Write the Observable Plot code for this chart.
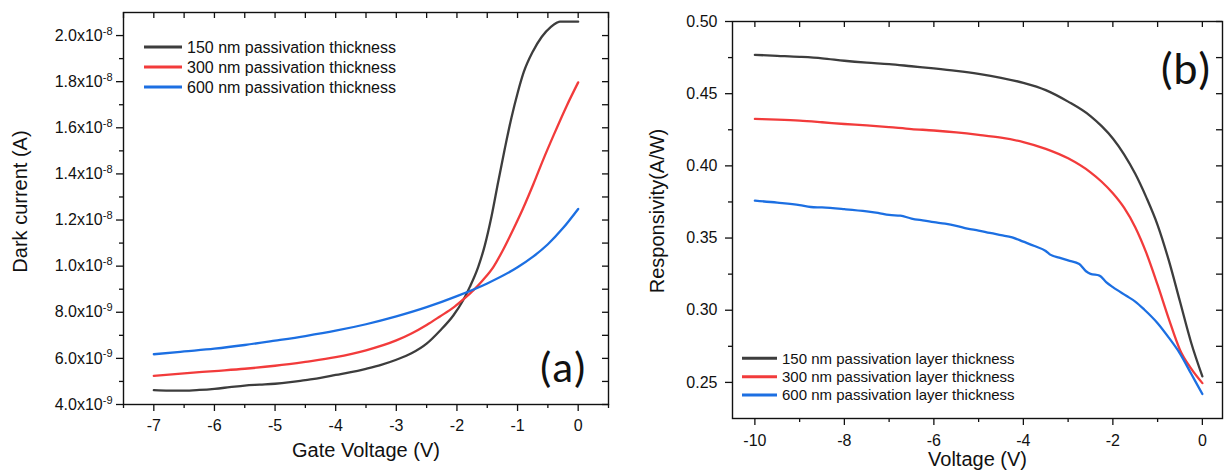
<!DOCTYPE html>
<html><head><meta charset="utf-8">
<script src="https://cdn.jsdelivr.net/npm/d3@7"></script>
<script src="https://cdn.jsdelivr.net/npm/@observablehq/plot@0.6"></script>
<style>
html,body{margin:0;padding:0;background:#fff;}
#wrap{position:relative;width:1225px;height:470px;overflow:hidden;background:#fff;}
#a{position:absolute;left:0;top:0;}
#b{position:absolute;left:620px;top:0;}
</style></head><body><div id="wrap"><div id="a"></div><div id="b"></div></div>
<script>
// ---------- Panel (a): dark current vs gate voltage (values in units of 1e-9 A) ----------
const seriesA = ["150 nm passivation thickness", "300 nm passivation thickness", "600 nm passivation thickness"];
const gateV150 = [-7, -6.75, -6.5, -6.25, -6, -5.75, -5.5, -5.25, -5, -4.75, -4.5, -4.25, -4, -3.75, -3.5, -3.25, -3, -2.75, -2.5, -2.28, -2.06, -1.9, -1.79, -1.65, -1.54, -1.43, -1.32, -1.21, -1.1, -1.0, -0.9, -0.75, -0.6, -0.45, -0.35, -0.3, 0];
const dark150  = [4.62, 4.6, 4.6, 4.63, 4.68, 4.75, 4.82, 4.86, 4.9, 4.97, 5.06, 5.15, 5.28, 5.4, 5.55, 5.72, 5.94, 6.22, 6.64, 7.2, 7.86, 8.51, 9.09, 9.96, 10.9, 12.15, 13.65, 15.1, 16.45, 17.5, 18.4, 19.3, 19.95, 20.38, 20.56, 20.6, 20.6];
const gateV300 = [-7, -6.5, -6, -5.5, -5, -4.5, -4, -3.5, -3, -2.75, -2.5, -2.28, -2.06, -1.9, -1.73, -1.57, -1.4, -1.24, -1.07, -0.91, -0.74, -0.58, -0.41, -0.19, 0];
const dark300  = [5.24, 5.35, 5.45, 5.55, 5.68, 5.85, 6.05, 6.35, 6.78, 7.08, 7.45, 7.82, 8.2, 8.55, 8.95, 9.4, 9.96, 10.7, 11.6, 12.5, 13.55, 14.6, 15.65, 16.95, 17.97];
const gateV600 = [-7, -6.5, -6, -5.5, -5, -4.5, -4, -3.5, -3, -2.5, -2, -1.5, -1, -0.75, -0.5, -0.25, 0];
const dark600  = [6.18, 6.3, 6.42, 6.58, 6.77, 6.97, 7.2, 7.48, 7.82, 8.22, 8.7, 9.25, 9.95, 10.4, 10.95, 11.65, 12.48];
const xTicksA = [-7, -6, -5, -4, -3, -2, -1, 0];
const xMinorA = [-7.5, -6.5, -5.5, -4.5, -3.5, -2.5, -1.5, -0.5, 0.5];
const yTicksA = [4, 6, 8, 10, 12, 14, 16, 18, 20];   // x1e-9 A
const yMinorA = [5, 7, 9, 11, 13, 15, 17, 19];

// ---------- Panel (b): responsivity vs voltage ----------
const seriesB = ["150 nm passivation layer thickness", "300 nm passivation layer thickness", "600 nm passivation layer thickness"];
const volt150 = [-10, -9.5, -9, -8.5, -8, -7.5, -7, -6.5, -6, -5.5, -5, -4.5, -4, -3.5, -3, -2.5, -2.25, -2, -1.75, -1.5, -1.25, -1, -0.75, -0.5, -0.25, 0];
const resp150 = [0.4769, 0.4762, 0.4755, 0.4745, 0.4728, 0.4715, 0.4705, 0.469, 0.4675, 0.4658, 0.4637, 0.461, 0.4575, 0.4525, 0.4445, 0.4345, 0.4275, 0.419, 0.408, 0.3945, 0.378, 0.359, 0.3345, 0.306, 0.2775, 0.2542];
const volt300 = [-10, -9.5, -9, -8.5, -8, -7.5, -7, -6.5, -6, -5.5, -5, -4.5, -4, -3.5, -3, -2.5, -2.25, -2, -1.75, -1.5, -1.25, -1, -0.75, -0.5, -0.25, 0];
const resp300 = [0.4325, 0.432, 0.4313, 0.4302, 0.429, 0.428, 0.4268, 0.4255, 0.4245, 0.4232, 0.4215, 0.4195, 0.4165, 0.4118, 0.4052, 0.3955, 0.389, 0.381, 0.371, 0.3575, 0.3395, 0.3175, 0.294, 0.2725, 0.2595, 0.2495];
const volt600 = [-10, -9.5, -9, -8.75, -8.5, -8, -7.5, -7.25, -7, -6.75, -6.5, -6.25, -6, -5.75, -5.5, -5.25, -5, -4.75, -4.5, -4.25, -4, -3.75, -3.5, -3.4, -3.2, -3, -2.75, -2.6, -2.5, -2.3, -2.15, -2, -1.7, -1.5, -1.3, -1, -0.75, -0.5, -0.25, 0];
const resp600 = [0.3759, 0.3745, 0.3728, 0.3715, 0.3712, 0.37, 0.3685, 0.3675, 0.366, 0.3655, 0.3635, 0.3622, 0.361, 0.36, 0.3585, 0.3565, 0.3552, 0.3535, 0.352, 0.3505, 0.3475, 0.3445, 0.341, 0.3385, 0.3365, 0.3345, 0.332, 0.327, 0.3252, 0.324, 0.3195, 0.316, 0.31, 0.306, 0.3005, 0.291, 0.281, 0.27, 0.256, 0.242];
const xTicksB = [-10, -8, -6, -4, -2, 0];
const xMinorB = [-9, -7, -5, -3, -1];
const yTicksB = [0.25, 0.30, 0.35, 0.40, 0.45, 0.50];
const yMinorB = [0.275, 0.325, 0.375, 0.425, 0.475];

const colors = ["#3d3d3d", "#f23b3b", "#1c6fe2"];
const FONT = "'Liberation Sans', Arimo, Arial, Helvetica, sans-serif";
const PANEL_FONT = "Carlito, Lato, 'Open Sans', sans-serif";

function sci(v) {
  const e = Math.floor(Math.log10(v) + 1e-9);
  const m = v / Math.pow(10, e);
  return m.toFixed(1) + "x10^" + e;
}

// ---------- build panel (a) ----------
const rowsA = [];
[[gateV150, dark150], [gateV300, dark300], [gateV600, dark600]].forEach(([xs, ys], k) =>
  xs.forEach((x, i) => rowsA.push({x, y: ys[i] * 1e-9, s: seriesA[k]})));

const WA = 620, HA = 470, mLA = 123, mRA = 12, mTA = 12, mBA = 66;
const fwA = WA - mLA - mRA, fhA = HA - mTA - mBA;

const plotA = Plot.plot({
  width: WA, height: HA,
  marginLeft: mLA, marginRight: mRA, marginTop: mTA, marginBottom: mBA,
  style: {fontFamily: FONT, color: "#111", background: "transparent", overflow: "visible"},
  x: {domain: [-7.5, 0.5], axis: null},
  y: {domain: [4e-9, 2.1e-8], axis: null},
  color: {domain: seriesA, range: colors},
  marks: [
    Plot.line(rowsA, {x: "x", y: "y", z: "s", stroke: "s", strokeWidth: 2.3, curve: "monotone-x"}),
    Plot.frame({stroke: "#111", strokeWidth: 1.4}),
    Plot.axisX(xTicksA, {anchor: "bottom", tickSize: 7, tickPadding: 8, fontSize: 16, tickFormat: d => String(d), label: null, strokeWidth: 1.3}),
    Plot.axisX(xMinorA, {anchor: "bottom", tickSize: 4, text: null, tickFormat: () => "", label: null, strokeWidth: 1.3}),
    Plot.tickX([...xTicksA, ...xMinorA], {x: d => d, insetBottom: fhA - 6, stroke: "#111", strokeWidth: 1.3}),
    Plot.axisY(yTicksA.map(v => v * 1e-9), {anchor: "left", tickSize: 7, tickPadding: 4, fontSize: 16, tickFormat: sci, label: null, strokeWidth: 1.3}),
    Plot.axisY(yMinorA.map(v => v * 1e-9), {anchor: "left", tickSize: 4, text: null, tickFormat: () => "", label: null, strokeWidth: 1.3}),
    Plot.tickY([...yTicksA, ...yMinorA].map(v => v * 1e-9), {y: d => d, insetLeft: fwA - 6, stroke: "#111", strokeWidth: 1.3}),
    Plot.text(["Gate Voltage (V)"], {text: d => d, frameAnchor: "bottom", dy: 46, lineAnchor: "middle", textAnchor: "middle", fontSize: 20, fill: "#111"}),
    Plot.text(["Dark current (A)"], {text: d => d, frameAnchor: "left", dx: -103, dy: -7, rotate: -90, lineAnchor: "middle", textAnchor: "middle", fontSize: 20, fill: "#111"}),
    Plot.text(["(a)"], {text: d => d, frameAnchor: "bottom-right", dx: -22, dy: -37, lineAnchor: "middle", textAnchor: "end", fontSize: 44, fontFamily: PANEL_FONT, fill: "#111"})
  ]
});

// ---------- build panel (b) ----------
const rowsB = [];
[[volt150, resp150], [volt300, resp300], [volt600, resp600]].forEach(([xs, ys], k) =>
  xs.forEach((x, i) => rowsB.push({x, y: ys[i], s: seriesB[k]})));

const WB = 605, HB = 470, mLB = 112, mRB = 3, mTB = 21, mBB = 52;
const fwB = WB - mLB - mRB, fhB = HB - mTB - mBB;

const plotB = Plot.plot({
  width: WB, height: HB,
  marginLeft: mLB, marginRight: mRB, marginTop: mTB, marginBottom: mBB,
  style: {fontFamily: FONT, color: "#111", background: "transparent", overflow: "visible"},
  x: {domain: [-10.5, 0.45], axis: null},
  y: {domain: [0.225, 0.5], axis: null},
  color: {domain: seriesB, range: colors},
  marks: [
    Plot.line(rowsB, {x: "x", y: "y", z: "s", stroke: "s", strokeWidth: 2.3, curve: "monotone-x"}),
    Plot.frame({stroke: "#111", strokeWidth: 1.4}),
    Plot.axisX(xTicksB, {anchor: "bottom", tickSize: 7, tickPadding: 9, fontSize: 16, tickFormat: d => String(d), label: null, strokeWidth: 1.3}),
    Plot.axisX(xMinorB, {anchor: "bottom", tickSize: 4, text: null, tickFormat: () => "", label: null, strokeWidth: 1.3}),
    Plot.tickX([...xTicksB, ...xMinorB], {x: d => d, insetBottom: fhB - 6, stroke: "#111", strokeWidth: 1.3}),
    Plot.axisY(yTicksB, {anchor: "left", tickSize: 7, tickPadding: 8, fontSize: 16, tickFormat: d => d.toFixed(2), label: null, strokeWidth: 1.3}),
    Plot.axisY(yMinorB, {anchor: "left", tickSize: 4, text: null, tickFormat: () => "", label: null, strokeWidth: 1.3}),
    Plot.tickY([...yTicksB, ...yMinorB], {y: d => d, insetLeft: fwB - 6, stroke: "#111", strokeWidth: 1.3}),
    Plot.text(["Voltage (V)"], {text: d => d, frameAnchor: "bottom", dy: 41, lineAnchor: "middle", textAnchor: "middle", fontSize: 20, fill: "#111"}),
    Plot.text(["Responsivity(A/W)"], {text: d => d, frameAnchor: "left", dx: -75, dy: -9, rotate: -90, lineAnchor: "middle", textAnchor: "middle", fontSize: 20, fill: "#111"}),
    Plot.text(["(b)"], {text: d => d, frameAnchor: "top-right", dx: -11, dy: 48, lineAnchor: "middle", textAnchor: "end", fontSize: 46, fontFamily: PANEL_FONT, fill: "#111"})
  ]
});

// superscript exponents on panel (a) y tick labels
d3.select(plotA).selectAll("text").each(function () {
  const t = this.textContent;
  if (t.includes("^")) {
    const [a, b] = t.split("^");
    const sel = d3.select(this);
    sel.text(a);
    sel.append("tspan").attr("dy", "-0.55em").attr("font-size", "11px").text(b);
  }
});

// legends
function legend(svg, names, x0, x1, tx, ys, fs) {
  const g = d3.select(svg).append("g").attr("font-family", FONT).attr("font-size", fs)
    .attr("fill", "#111").attr("text-anchor", "start");
  names.forEach((n, i) => {
    g.append("line").attr("x1", x0).attr("x2", x1).attr("y1", ys[i]).attr("y2", ys[i])
      .attr("stroke", colors[i]).attr("stroke-width", 3);
    g.append("text").attr("x", tx).attr("y", ys[i]).attr("dy", "0.35em").attr("text-anchor", "start").text(n);
  });
}
legend(plotA, seriesA, 144, 182, 187, [47, 67, 87], 16);
legend(plotB, seriesB, 122, 157, 162, [358.3, 376.7, 395], 15);

document.getElementById("a").append(plotA);
document.getElementById("b").append(plotB);
</script></body></html>
